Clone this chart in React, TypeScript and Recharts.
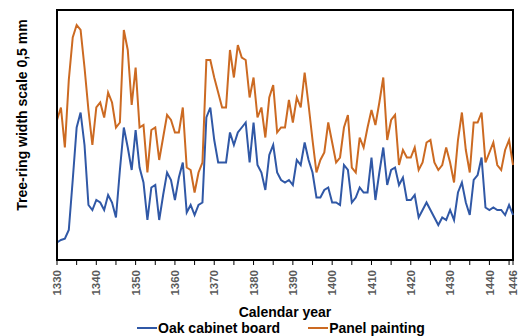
import { LineChart, Line, XAxis, YAxis, CartesianGrid, Legend, ReferenceArea } from 'recharts';

const firstYear = 1330;

// tree-ring widths, one value per year from 1330 to 1446
const oakBoard = [
  0.7, 0.8, 0.85, 1.2, 3.2, 5.3, 5.9, 4.6, 2.2, 2.0,
  2.4, 2.3, 2.0, 2.6, 2.3, 1.7, 3.6, 5.3, 4.5, 3.6,
  5.2, 3.7, 3.1, 1.6, 2.9, 3.0, 1.6, 2.6, 3.5, 3.2,
  2.4, 3.3, 3.9, 1.9, 2.2, 1.8, 2.2, 2.3, 5.7, 6.1,
  4.8, 3.9, 3.9, 3.9, 5.1, 4.6, 5.1, 5.3, 5.5, 3.9,
  5.5, 3.8, 3.5, 2.8, 4.2, 4.6, 3.5, 3.2, 3.1, 3.2,
  3.0, 4.0, 3.8, 4.7, 4.0, 3.5, 2.5, 2.5, 2.8, 2.9,
  2.3, 2.3, 2.2, 3.8, 3.6, 2.3, 2.5, 2.9, 2.7, 2.7,
  4.1, 2.4, 3.5, 4.5, 3.0, 3.6, 3.7, 3.0, 3.3, 2.4,
  2.4, 2.6, 1.7, 2.0, 2.3, 2.0, 1.7, 1.4, 1.7, 1.6,
  2.0, 1.6, 2.7, 3.1, 2.3, 1.8, 3.2, 3.4, 4.1, 2.1,
  2.0, 2.1, 2.0, 2.0, 1.8, 2.2, 1.8,
];

const panelPainting = [
  5.6, 6.1, 4.5, 7.2, 8.9, 9.4, 9.2, 7.7, 6.0, 4.6,
  6.1, 6.3, 5.7, 6.7, 6.3, 5.3, 5.5, 9.2, 8.4, 6.2,
  7.7, 5.3, 5.4, 3.5, 5.2, 5.3, 4.0, 4.9, 5.8, 5.6,
  5.1, 5.1, 6.1, 3.7, 3.6, 2.7, 3.5, 3.9, 8.0, 8.0,
  7.3, 6.7, 6.1, 6.1, 8.4, 7.3, 8.6, 8.1, 8.0, 6.5,
  7.3, 5.7, 6.1, 4.9, 6.5, 7.0, 5.1, 5.3, 5.3, 6.4,
  5.5, 6.5, 6.1, 7.5, 6.2, 4.8, 3.5, 4.0, 4.3, 5.5,
  4.7, 3.9, 4.1, 5.3, 5.8, 3.7, 3.5, 4.9, 4.5, 5.3,
  6.0, 5.4, 6.3, 7.3, 4.8, 5.6, 5.8, 3.8, 4.4, 4.1,
  4.1, 4.5, 3.6, 3.9, 4.7, 4.8, 3.9, 3.6, 3.8, 4.5,
  3.9, 3.1, 4.8, 5.9, 4.4, 3.5, 5.5, 5.5, 5.9, 3.9,
  4.3, 4.7, 3.8, 3.6, 4.4, 4.8, 3.8,
];

const labelYears = [1330, 1340, 1350, 1360, 1370, 1380, 1390, 1400, 1410, 1420, 1430, 1440, 1446];
const tickYears = [
  1330, 1335, 1340, 1345, 1350, 1355, 1360, 1365, 1370, 1375, 1380, 1385, 1390,
  1395, 1400, 1405, 1410, 1415, 1420, 1425, 1430, 1435, 1440, 1445, 1446,
];
const gridValues = [0, 1, 2, 3, 4, 5, 6, 7, 8, 9, 10];

const oakColor = '#3058a6';
const panelColor = '#cc6a22';

const data = oakBoard.map((v, i) => ({
  year: firstYear + i,
  oak: v,
  panel: panelPainting[i],
}));

function YearTick({ x, y, payload }: any) {
  if (!labelYears.includes(payload.value)) return <g />;
  const ty = y + 3;
  return (
    <text
      x={x}
      y={ty}
      dy="0.36em"
      transform={`rotate(-90, ${x}, ${ty})`}
      textAnchor="end"
      fontSize={11.5}
      fontWeight="bold"
      fill="#5a5a5a"
    >
      {payload.value}
    </text>
  );
}

function YLabel({ viewBox }: any) {
  const x = viewBox.x + 22;
  const y = viewBox.y + 105;
  return (
    <text
      x={x}
      y={y}
      transform={`rotate(-90, ${x}, ${y})`}
      textAnchor="middle"
      dy="0.36em"
      fontSize={14}
      fontWeight="bold"
      fill="#000"
    >
      Tree-ring width scale 0,5 mm
    </text>
  );
}

function ChartLegend() {
  return (
    <div
      style={{
        display: 'flex',
        alignItems: 'center',
        paddingLeft: 137,
        height: 16,
        fontSize: 14,
        fontWeight: 'bold',
        lineHeight: '16px',
        color: '#000',
      }}
    >
      <svg width={21} height={16}>
        <line x1={0} x2={20} y1={8} y2={8} stroke={oakColor} strokeWidth={2} />
      </svg>
      <span>Oak cabinet board</span>
      <svg width={21} height={16} style={{ marginLeft: 28 }}>
        <line x1={0} x2={20} y1={8} y2={8} stroke={panelColor} strokeWidth={2} />
      </svg>
      <span>Panel painting</span>
    </div>
  );
}

export default function App() {
  return (
    <div
      style={{
        position: 'fixed',
        left: 0,
        top: 0,
        width: 518,
        height: 336,
        background: '#fff',
        fontFamily: '"Liberation Sans", Arial, sans-serif',
      }}
    >
      <LineChart width={518} height={336} data={data} margin={{ top: 10, right: 5, left: 0, bottom: 0 }}>
        <CartesianGrid vertical={false} stroke="#d9d9d9" />
        <XAxis
          dataKey="year"
          type="number"
          domain={[1330, 1446]}
          ticks={tickYears}
          interval={0}
          height={60}
          tickSize={5}
          tickLine={{ stroke: '#000' }}
          axisLine={{ stroke: '#000', strokeWidth: 2 }}
          tick={<YearTick />}
          label={{
            value: 'Calendar year',
            position: 'insideBottom',
            offset: 3,
            fontSize: 14,
            fontWeight: 'bold',
            fill: '#000',
          }}
        />
        <YAxis
          width={57}
          domain={[0, 10]}
          ticks={gridValues}
          tick={false}
          tickLine={false}
          axisLine={{ stroke: '#000', strokeWidth: 2 }}
          label={<YLabel />}
        />
        <ReferenceArea
          x1={1330}
          x2={1446}
          y1={0}
          y2={10}
          fill="none"
          fillOpacity={0}
          stroke="#000"
          strokeWidth={2}
          strokeOpacity={1}
          ifOverflow="visible"
        />
        <Line
          type="linear"
          dataKey="oak"
          name="Oak cabinet board"
          stroke={oakColor}
          strokeWidth={2}
          dot={false}
          isAnimationActive={false}
        />
        <Line
          type="linear"
          dataKey="panel"
          name="Panel painting"
          stroke={panelColor}
          strokeWidth={2}
          dot={false}
          isAnimationActive={false}
        />
        <Legend verticalAlign="bottom" content={<ChartLegend />} />
      </LineChart>
    </div>
  );
}
